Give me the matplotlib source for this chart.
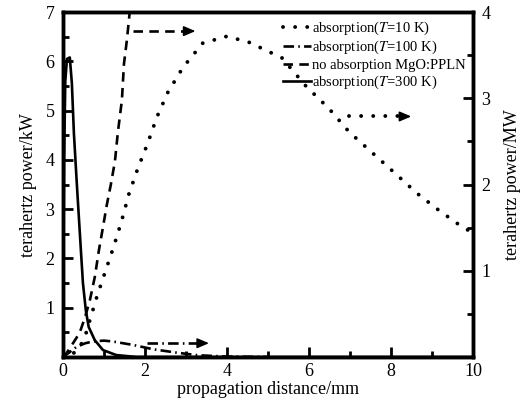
import matplotlib
matplotlib.use("Agg")
import matplotlib.pyplot as plt
import numpy as np

plt.rcParams['font.family'] = ['Liberation Serif', 'DejaVu Serif']
plt.rcParams['mathtext.fontset'] = 'stix'

# absorption T=10 K  (right axis, MW)
x_10k = [0, 0.2, 0.4, 0.55, 0.66, 0.83, 1.02, 1.24, 1.44, 1.61, 1.83, 2.07, 2.29, 2.56,
         2.93, 3.41, 4.0, 4.54, 5.34, 5.93, 6.49, 6.98, 7.54, 8.10, 8.63, 9.17, 9.73, 10.0]
p_10k = [0, 0.02, 0.10, 0.25, 0.43, 0.70, 0.97, 1.28, 1.59, 1.89, 2.19, 2.48, 2.78, 3.07,
         3.36, 3.64, 3.72, 3.65, 3.47, 3.14, 2.88, 2.61, 2.37, 2.13, 1.90, 1.70, 1.51, 1.44]

# absorption T=100 K  (right axis, MW)
x_100k = [0, 0.15, 0.34, 0.55, 0.73, 1.0, 1.22, 1.71, 2.2, 2.78, 3.3, 4.0, 5.0]
p_100k = [0, 0.05, 0.12, 0.16, 0.18, 0.19, 0.18, 0.14, 0.09, 0.05, 0.02, 0.005, 0]

# no absorption MgO:PPLN  (right axis, MW)
x_noabs = [0, 0.1, 0.41, 0.54, 0.66, 0.78, 0.88, 0.98, 1.07, 1.17, 1.27, 1.34, 1.44, 1.49, 1.56, 1.63, 1.7]
p_noabs = [0, 0.05, 0.28, 0.46, 0.66, 0.93, 1.24, 1.51, 1.76, 2.0, 2.27, 2.60, 2.98, 3.40, 3.67, 4.0, 4.4]

# absorption T=300 K  (left axis, kW)
x_300k = [0, 0.03, 0.06, 0.1, 0.17, 0.22, 0.27, 0.34, 0.37, 0.44, 0.49, 0.56, 0.63, 0.78, 0.98, 1.3, 1.8, 10.0]
p_300k = [0, 4.0, 5.6, 6.05, 6.08, 5.56, 4.54, 3.53, 3.12, 2.17, 1.50, 0.95, 0.61, 0.34, 0.14, 0.04, 0, 0]

dotted = (0, (0.01, 3.1))
dashdot = (0, (4, 1.6, 0.6, 1.6))
dashed = (0, (3.6, 2.4))

# arrows (x start, x end, y in MW)
arrows = [
    (1.7, 3.3, 3.78, dashed),
    (6.98, 8.56, 2.79, dotted),
    (2.05, 3.63, 0.16, dashdot),
]

fig = plt.figure(figsize=(5.28, 4.05), dpi=100)
ax = fig.add_axes([0.119, 0.1185, 0.777, 0.8515])
ax2 = ax.twinx()

lw = 1.9
h1, = ax2.plot(x_10k, p_10k, color='black', lw=2.8, linestyle=dotted,
               dash_capstyle='round', label='absorption($\\mathit{T}$=10 K)')
h2, = ax2.plot(x_100k, p_100k, color='black', lw=lw, linestyle=dashdot,
               label='absorption($\\mathit{T}$=100 K)')
h3, = ax2.plot(x_noabs, p_noabs, color='black', lw=lw, linestyle=dashed,
               label='no absorption MgO:PPLN')
h4, = ax.plot(x_300k, p_300k, color='black', lw=lw, label='absorption($\\mathit{T}$=300 K)')

for x0, x1, y, ls in arrows:
    if ls is dotted:
        ax2.plot([x0, x1 - 0.2], [y, y], color='black', lw=2.8, linestyle=ls, dash_capstyle='round')
    else:
        ax2.plot([x0, x1 - 0.2], [y, y], color='black', lw=lw, linestyle=ls)
    ax2.annotate('', xy=(x1, y), xytext=(x1 - 0.3, y),
                 arrowprops=dict(arrowstyle='-|>,head_length=0.7,head_width=0.3',
                                 color='black', lw=1.2))

ax.set_xlim(0, 10)
ax.set_ylim(0, 7)
ax2.set_ylim(0, 4)
ax.set_xticks([0, 2, 4, 6, 8, 10])
ax.set_xticks([1, 3, 5, 7, 9], minor=True)
ax.set_yticks([1, 2, 3, 4, 5, 6, 7])
ax.set_yticks(np.arange(0.5, 7, 1.0), minor=True)
ax2.set_yticks([1, 2, 3, 4])
ax2.set_yticks([0.5, 1.5, 2.5, 3.5], minor=True)

for a in (ax, ax2):
    a.tick_params(which='major', direction='in', length=7, width=2, labelsize=13)
    a.tick_params(which='minor', direction='in', length=4, width=2)
    for s in a.spines.values():
        s.set_linewidth(2.5)
ax.tick_params(axis='x', top=False, pad=4)
ax.tick_params(axis='y', pad=6)
ax2.tick_params(axis='y', pad=6)

ax.set_xlabel('propagation distance/mm', fontsize=13, labelpad=1)
ax.set_ylabel('terahertz power/kW', fontsize=13, labelpad=6)
ax2.set_ylabel('terahertz power/MW', fontsize=13, labelpad=10)

leg = ax2.legend(handles=[h1, h2, h3, h4], loc='upper right', frameon=False,
                 fontsize=10.5, handlelength=1.9, handletextpad=0.1,
                 labelspacing=0.15, borderaxespad=0.1)

fig.savefig('out.png', dpi=100)
